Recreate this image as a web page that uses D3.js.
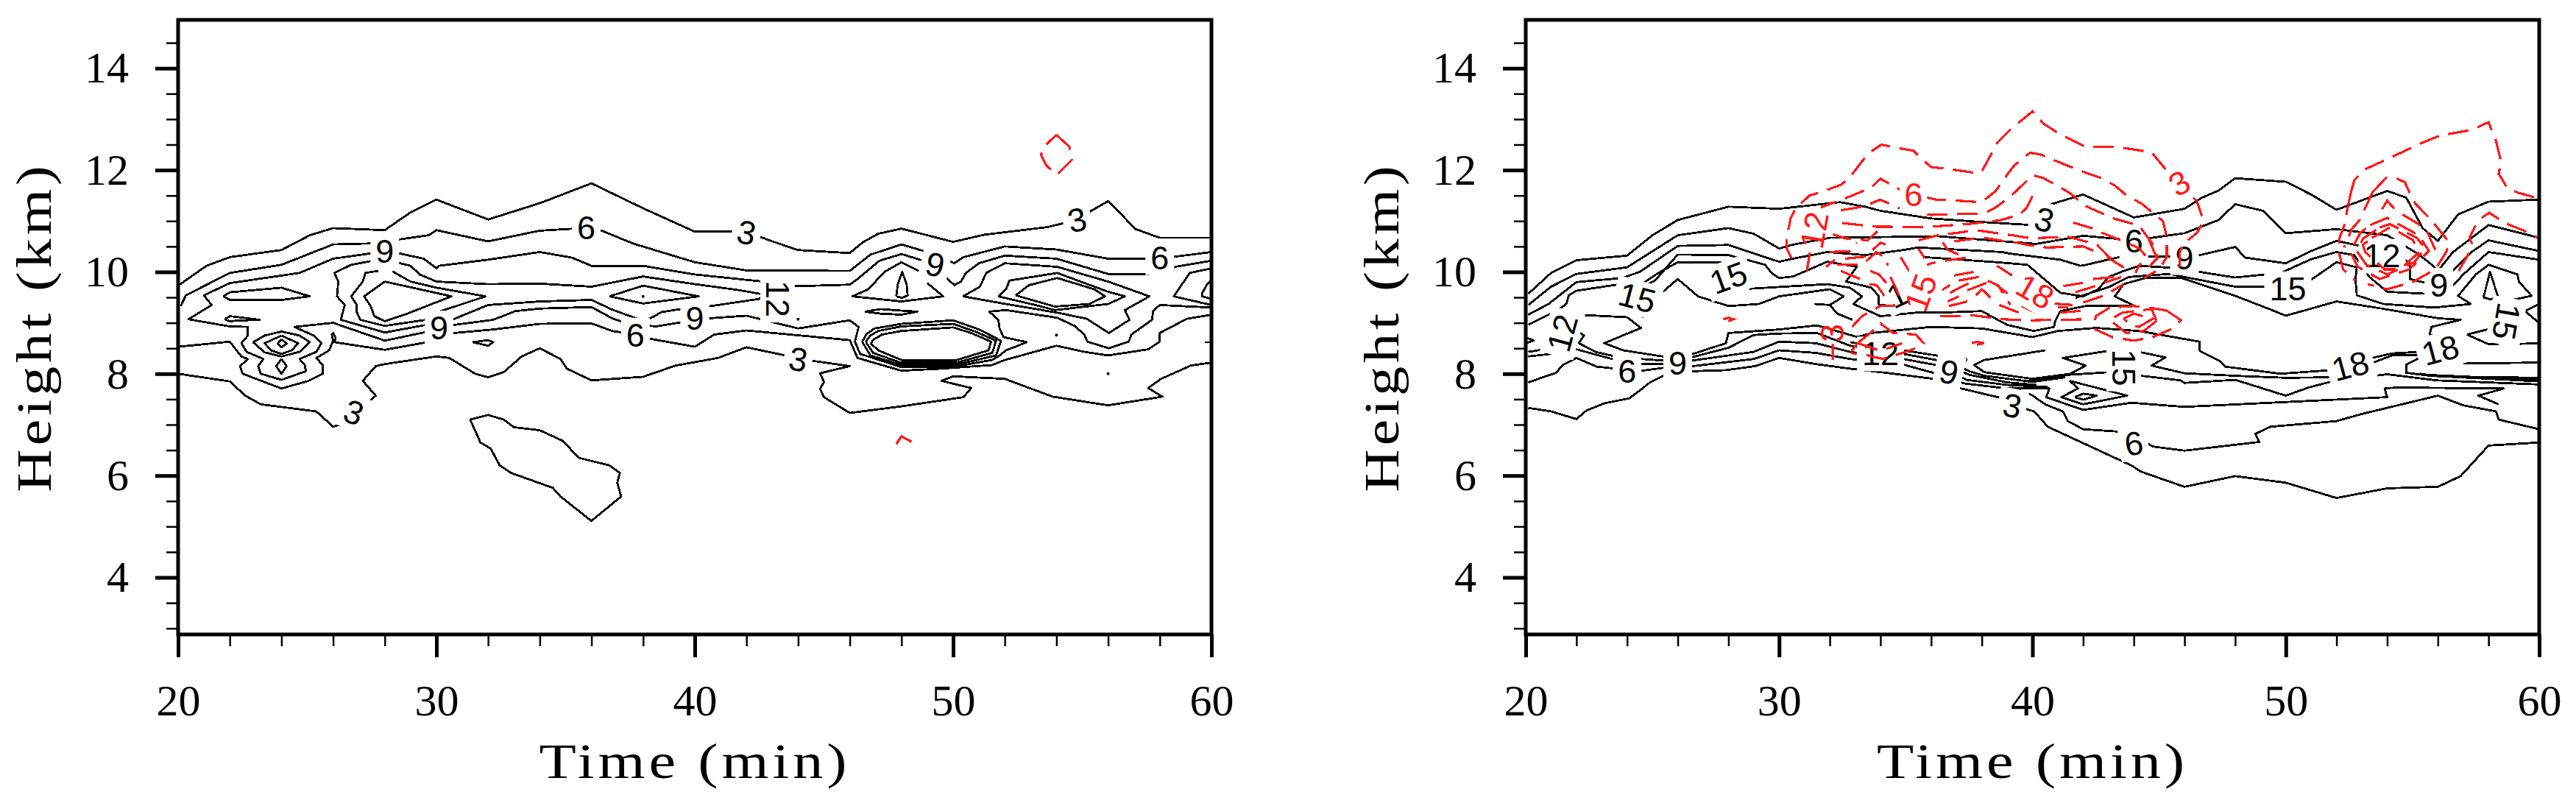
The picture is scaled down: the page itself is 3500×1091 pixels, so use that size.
<!DOCTYPE html>
<html lang="en">
<head>
<meta charset="UTF-8">
<title>Height vs time contours</title>
<style>
  html, body { margin: 0; padding: 0; background: #fff; }
  svg { display: block; }
  .lab { font-family: "Liberation Sans", Arial, sans-serif; font-size: 45px; text-anchor: middle; dominant-baseline: central; }
  .tick text { font-family: "Liberation Serif", serif; font-size: 60px; fill: #000; }
  .title { font-family: "Liberation Serif", serif; font-size: 68px; letter-spacing: 4px; fill: #000; }
</style>
</head>
<body>
<svg id="chart" width="3500" height="1091"></svg>
<script src="https://d3js.org/d3.v7.min.js"></script>
<script>
const xMajor = [20, 30, 40, 50, 60];
const xMinor = [22, 24, 26, 28, 32, 34, 36, 38, 42, 44, 46, 48, 52, 54, 56, 58];
const yMajor = [4, 6, 8, 10, 12, 14];
const yMinor = [3, 3.5, 4.5, 5, 5.5, 6.5, 7, 7.5, 8.5, 9, 9.5, 10.5, 11, 11.5, 12.5, 13, 13.5, 14.5];

const leftLines = [
  [[20,9.73],[21.1,10.12],[22,10.29],[24,10.43],[25.1,10.72],[26,10.86],[28,10.82],[29,11.17],[30,11.42],[32,11.03],[34,11.35],[36,11.74],[38,11.25],[40,10.79],[42,10.79],[43,10.6],[44,10.43],[46,10.37],[46.5,10.58],[47.1,10.75],[48,10.85],[49,10.72],[50,10.59],[51.2,10.73],[53.65,10.88],[54.3,10.96],[55,11.1],[56,11.39],[57.07,10.84],[58,10.67],[60,10.67]],
  [[20.1,9.33],[20.3,9.54],[22,9.98],[24,10.14],[26,10.54],[27.55,10.56],[28.6,10.64],[29.7,10.72],[30,10.82],[32,10.6],[34,10.81],[35.35,10.85],[36.4,10.81],[37.6,10.56],[38.7,10.39],[40,10.19],[42,10.03],[46,10.02],[46.3,10.14],[46.8,10.34],[48,10.54],[49,10.39],[50.05,10.17],[50.4,10.29],[52,10.5],[54,10.44],[56,10.26],[57.6,10.26],[58.6,10.3],[60,10.39]],
  [[60,10.22],[58.7,10.11],[57.6,9.96],[56,9.96],[54,10.26],[52,10.32],[51,10.17],[50.5,9.98],[50.3,9.81],[50.05,9.74],[49.7,9.9],[48.85,10.22],[48,10.35],[47.15,10.22],[46.3,9.86],[46,9.75],[44,9.72],[42.65,9.81],[40,9.95],[38,10.12],[36,10.12],[35.25,10.28],[34,10.39],[32,10.24],[30.1,10.12],[30,10.07],[29.5,10.26],[28.6,10.36],[27.55,10.37],[26,10.26],[24.7,9.98],[22,9.78],[21,9.54],[21.3,9.35],[20.4,9.07],[22,8.93],[22.7,8.92],[22.7,8.75],[22.45,8.6],[22.65,8.43],[23.3,8.29],[23.1,8.15],[23.2,8],[24,7.88],[24.95,8.05],[24.9,8.17],[24.7,8.29],[25.35,8.43],[25.55,8.6],[25.25,8.75],[24.5,8.92],[26,9],[28,8.65],[29.6,8.82],[30.7,8.96],[32.2,9.06],[33.05,9.23],[34,9.28],[36,9.31],[36.8,9.09],[37.4,8.98],[38.5,8.93],[39.45,9.01],[40.6,9.09],[42,9.14],[44,8.89],[46,9.05],[46.34,8.92],[46.2,8.63],[46.4,8.39],[48,8.13],[50.05,8.14],[51.5,8.27],[51.75,8.34],[52.05,8.46],[52.85,8.62],[51.95,8.72],[51.8,8.89],[51.75,9.06],[51.4,9.22],[52.05,9.25],[54.03,9.1],[54.7,8.94],[55.08,8.77],[55.2,8.63],[56.03,8.5],[56.8,8.63],[56.9,8.77],[57.7,9.06],[57.74,9.23],[58,9.35],[60,9.3]],
  [[42.65,9.56],[41.6,9.65],[40,9.76],[38,9.91],[36,9.71],[34,9.77],[32,9.76],[30,9.81],[29.35,9.95],[29,10.12],[28.6,10.17],[27.55,10.22],[26.7,10.14],[26.05,9.98],[26.2,9.81],[26.15,9.52],[26.45,9.35],[26.3,9.06],[28,8.81],[29.6,8.96],[30.7,9.08],[32,9.35],[34,9.42],[36,9.45],[36.8,9.26],[38,9.04],[38.4,9.12],[38.7,9.21],[39.45,9.27],[40.5,9.32],[42.5,9.47],[42.65,9.56]],
  [[27.75,10.02],[27.25,9.98],[27.15,9.81],[26.7,9.52],[26.9,9.37],[26.9,9.23],[27.05,9.06],[28,8.94],[29.6,9.06],[30,9.2],[31.9,9.52],[30,9.69],[29,9.81],[28.3,10.01]],
  [[28,9.81],[30.58,9.52],[28.87,9.18],[28,9.03],[27.6,9.13],[27.45,9.33],[27.2,9.52],[28,9.81]],
  [[20,8.53],[22,8.63],[22.45,8.34],[22.7,8.29],[22.4,8.15],[22.5,8],[24,7.71],[25.05,7.86],[25.6,8],[25.6,8.17],[25.35,8.31],[25.85,8.46],[26,8.65],[25.95,8.77],[26,8.8],[26.1,8.7],[26.05,8.62],[28,8.47],[29.65,8.62],[30.7,8.8],[32.2,8.87],[34,8.98],[36,8.99],[36.8,8.84],[37.45,8.79],[38.35,8.68],[40,8.53],[40.75,8.77],[42,8.85],[46,8.66],[46.3,8.31],[48,8.06],[49.55,8.1],[51.5,8.17],[52,8.27],[54,8.55],[55.08,8.43],[56,8.36],[57.55,8.48],[58,8.63],[58,8.8],[59.05,9.08],[60,9.16]],
  [[50.38,9.52],[51.04,9.71],[51.28,9.98],[52,10.17],[54.03,10.1],[56,9.81],[57.6,9.52],[56.65,9.25],[56.83,9.06],[56.03,8.8],[55.17,9.08],[54.03,9.2],[52.04,9.37],[50.38,9.52]],
  [[51.75,9.52],[52.05,9.66],[52.18,9.83],[54.03,9.98],[56,9.61],[56.65,9.52],[56,9.37],[53.94,9.25],[53.18,9.35],[51.75,9.52]],
  [[52.42,9.54],[52.94,9.74],[54.03,9.88],[55.46,9.66],[55.88,9.52],[55.27,9.37],[53.94,9.32],[52.42,9.54]],
  [[46.81,8.6],[46.95,8.68],[47.25,8.77],[48,8.84],[50,8.91],[50.7,8.8],[51.47,8.63],[51.37,8.46],[50.14,8.27],[48,8.27],[47.1,8.46],[46.81,8.6]],
  [[46.62,8.63],[46.8,8.75],[47.1,8.84],[48,8.93],[50,8.98],[50.9,8.82],[51.66,8.65],[51.52,8.41],[50.14,8.22],[47.95,8.22],[46.9,8.41],[46.62,8.63]],
  [[46.48,8.63],[46.65,8.78],[46.96,8.89],[48,8.98],[50,9.05],[51,8.87],[51.85,8.65],[51.66,8.36],[50.14,8.18],[47.95,8.18],[46.8,8.36],[46.48,8.63]],
  [[46.58,9.22],[47.2,9.27],[48,9.24],[48.62,9.22],[48,9.16],[47.2,9.18],[46.58,9.22]],
  [[47.8,9.52],[47.86,9.76],[48.03,10],[48.2,9.76],[48.24,9.54],[48.03,9.49],[47.8,9.52]],
  [[48.67,10.02],[48,10.19],[47.34,10],[46.72,9.66],[46.1,9.52],[48,9.42],[49.62,9.52],[49,9.78]],
  [[60,10.07],[59.16,9.98],[58.54,9.52],[60,9.35]],
  [[60,9.83],[59.83,9.76],[59.63,9.57],[59.64,9.52],[60,9.47]],
  [[59.75,8.62],[60,8.62]],
  [[20,8],[22,7.85],[22.6,7.57],[23.2,7.4],[25.35,7.26],[26,6.96],[26.55,7.04],[26.8,7.2],[27.3,7.4],[27.65,7.57],[27.15,7.86],[27.65,8.15],[28,8.19],[30,8.34],[30.5,8.31],[31.5,8],[32,7.93],[32.6,8.03],[33.3,8.34],[34,8.5],[34.8,8.29],[35.05,8.1],[36,7.87],[38,7.94],[39.25,8.16],[40.9,8.31],[42,8.52],[43.5,8.36],[44.6,8.25],[46,8.15],[44.85,8.01],[45,7.84],[44.85,7.7],[45,7.54],[46,7.23],[48,7.36],[50.4,7.54],[50.7,7.72],[49.55,7.86],[50,7.95],[52,7.9],[53.85,7.55],[56,7.38],[58.1,7.55],[57.55,7.72],[58.05,7.9],[59.2,8.16],[60,8.22]],
  [[24,8.68],[24.2,8.59],[24,8.52],[23.85,8.59],[24,8.68]],
  [[24,8.75],[24.65,8.6],[24.4,8.46],[24,8.39],[23.6,8.46],[23.35,8.6],[24,8.75]],
  [[22.9,8.62],[23.35,8.75],[24,8.83],[24.7,8.75],[25.1,8.62],[24.7,8.43],[24,8.34],[23.35,8.42],[22.9,8.62]],
  [[24,8.29],[24.2,8.15],[24,8],[23.8,8.15],[24,8.29]],
  [[21.75,9.52],[22,9.6],[24,9.69],[25.1,9.52],[24,9.45],[22,9.45],[21.75,9.52]],
  [[21.8,9.07],[22,9.13],[22.2,9.12],[23.15,9.06],[22.2,9.04],[22,9.03],[21.8,9.07]],
  [[31.4,8.62],[32,8.66],[32.2,8.62],[32,8.55],[31.4,8.62]],
  [[36.7,9.52],[38,9.73],[40.15,9.52],[38,9.38],[36.7,9.52]],
  [[31.3,7.1],[32,7.19],[32.6,7.1],[33,6.95],[34,6.89],[34.9,6.68],[35.5,6.35],[36.7,6.2],[37.1,6.05],[37,5.86],[37.15,5.59],[36,5.11],[34.8,5.59],[34.5,5.76],[32.9,6.05],[32.45,6.2],[32.1,6.53],[31.7,6.65],[31.6,6.77],[31.3,7.1]]
];
const leftDots = [[38,9.52],[44,9.07],[54,8.76],[56,8]];
const leftRed = [
  [[54,12.69],[54.5,12.46],[54.6,12.2],[54,11.9],[53.6,12.1],[53.4,12.3],[53.6,12.5],[54,12.69]],
  [[47.8,6.62],[48,6.77],[48.4,6.66],[48.2,6.6]]
];
const leftLabels = [
  [28,10.41,"9",0],[30.1,8.9,"9",0],[35.8,10.86,"6",0],[26.8,7.24,"3",20],[42,10.77,"3",12],
  [49.3,10.14,"9",12],[43.2,9.47,"12",90],[40,9.09,"9",0],[44,8.28,"3",10],[54.8,11.02,"3",-12],
  [58,10.28,"6",0],[37.7,8.76,"6",0]
];

const rightLines = [
  [[20.1,9.57],[21,9.98],[22,10.23],[24,10.32],[25,10.72],[26,11.02],[28,11.28],[30,11.24],[32.4,11.37],[33.4,11.28],[34,11.2],[36,11.05],[38,10.98],[40,10.92],[40.74,11.33],[42,11.52],[44,11.07],[46,11.24],[46.7,11.46],[47.35,11.6],[48,11.84],[50,11.77],[51,11.52],[52,11.22],[54,11.59],[54.75,11.46],[55.4,10.86],[56,10.61],[56.8,11.13],[58,11.38],[60,11.42]],
  [[20.1,9.35],[21,9.71],[22,9.96],[24,10.09],[26,10.72],[28,10.86],[29,10.75],[30,10.46],[30.5,10.53],[32,10.67],[36.3,10.7],[40.15,10.55],[42,10.71],[44,10.62],[46,10.76],[47.35,11.02],[48,11.33],[49.1,11.2],[50,10.76],[52,10.84],[54,10.72],[55.1,10.39],[55.65,10.19],[56,10.02],[56.6,10.39],[58,10.92],[60,10.67]],
  [[20.1,9.16],[20.9,9.37],[22,9.8],[23.8,9.88],[24.5,10],[26,10.51],[28,10.53],[30,10.2],[30.55,10.26],[31.9,10.39],[33.4,10.33],[34.9,10.43],[35.5,10.48],[38.8,10.39],[39.1,10.36],[41.1,10.24],[41.9,10.12],[42.03,10.13],[43.5,10.3],[45.6,10.3],[46.6,10.33],[48,10.49],[48.4,10.28],[50,10.17],[51,10.41],[52,10.61],[53.04,10.5],[54.4,10.34],[54.9,10.17],[54.9,9.86],[55.56,9.78],[56.5,9.98],[57.3,10.38],[58,10.62],[60,10.41]],
  [[20.1,8.96],[20.9,9.16],[21.2,9.23],[21.6,9.37],[21.7,9.54],[22,9.63],[23.6,9.75],[24.7,9.73],[25.1,9.83],[26,10.34],[28,10.33],[28.7,10.24],[29.45,10.14],[29.7,9.98],[30,9.88],[30.55,9.91],[31.9,10.2],[33.07,10.1],[32.64,9.81],[33.65,9.69],[33.94,9.52],[33.94,9.35],[34.4,9.35]],
  [[24.6,9.1],[24.9,9.28],[25.2,9.52],[26,9.86],[26.8,9.52],[28,9.33],[29.2,9.37],[30,9.52],[32,9.66],[32.55,9.52],[32,9.35],[31.4,9.37]],
  [[32,9.35],[32.3,9.18],[32.9,9.06]],
  [[24.2,9.7],[24.7,9.8],[25.2,9.97],[26,10.19],[27.95,10.18],[28.85,9.67],[31.9,9.76],[32.8,9.69],[33.27,9.52],[32.93,9.37],[34,9.13],[35.4,9.2],[36.3,9.2],[38,9.23],[39,8.96],[40.05,8.84],[40.85,8.92],[40.9,9.04],[41.1,9.23],[42.1,9.33],[44,9.34],[43.25,9.52],[43.6,9.76],[44.45,9.88],[45.9,9.88],[48,9.53],[49.3,9.28],[50,9.14],[52,9.42],[53.8,9.28],[56,9.09],[56.9,9.06],[55.75,8.92],[55.67,8.76],[55.96,8.75]],
  [[35.74,10.29],[38.6,10.19],[39.8,10.14],[41.1,9.59],[42,9.52],[42.6,9.66],[43,9.9],[43.5,10],[44.2,10.12],[45.9,10.07],[46.6,10],[48,9.89],[49.8,9.98],[51,10.25],[52,10.39],[52.7,10.33],[53.3,9.9],[54,9.61],[55.56,9.57],[56.6,9.73],[57,9.95],[58,10.39],[60,10.24]],
  [[41.7,9.49],[43.05,9.71],[43.8,9.9],[45.4,9.96],[46.1,9.89],[48,9.71],[49.35,9.71],[50.95,9.83],[52,10.19],[52.8,10.09],[52.75,9.86],[52.8,9.54],[53.86,9.37],[55.85,9.3],[57.3,9.37],[56.8,9.53],[57.5,9.95],[58,10.14],[59.14,9.95],[59.2,9.81],[59.7,9.53],[58.3,9.38]],
  [[22,9.16],[24,9.11],[24.55,8.9],[23.1,8.6],[23.85,8.46],[25.4,8.34],[26.6,8.39],[27.9,8.6],[28,8.8],[30,8.87],[31.5,8.95],[33.1,8.72],[33.65,8.8],[36,8.92],[38,8.89],[40,8.72],[41,8.84],[42.5,8.9],[44.2,8.84],[46.6,8.63],[46.6,8.45],[47.4,8.25],[47.6,8.14],[49.8,8],[51.75,8.07],[53.4,8.31],[54.2,8.4],[55.3,8.43],[55.3,8.32],[54.75,8.18],[54.75,8.02],[55.7,7.96],[60,7.85]],
  [[20.1,8.43],[21,8.5],[21.6,8.75],[22.1,8.82],[22.3,8.75],[22.1,8.6],[22.75,8.43],[23.7,8.32],[25.4,8.26],[26.6,8.33],[28,8.51],[29,8.76],[30,8.79],[31.5,8.8],[32.8,8.55],[34.9,8.39],[36.2,8.27],[37.5,7.98],[39,7.83],[40.15,7.78]],
  [[20.1,8.34],[21,8.39],[22,8.48],[23.55,8.27],[24.6,8.19],[25.5,8.19],[26.6,8.26],[29,8.43],[30,8.63],[31.45,8.6],[32.8,8.43],[34.9,8.29],[36.2,8.17],[37.4,7.88],[39,7.78],[40.6,7.74]],
  [[20.1,7.83],[21.2,8.02],[21.45,8.17],[22,8.31],[22.8,8.14],[23.55,8.1],[24.6,8.06],[25.5,8.12],[26.6,8.15],[29,8.29],[30,8.46],[31.45,8.41],[32.8,8.29],[34.9,8.18],[36,8.03],[37.3,7.81],[39,7.71],[40.67,7.71],[40.54,7.54],[42,7.29],[43.9,7.43],[46,7.35],[54,7.54],[53.9,7.71],[54.35,7.73],[58.6,7.71],[57.6,7.57],[58.4,7.4]],
  [[20.1,7.33],[21,7.26],[22,7.11],[22.4,7.28],[23.1,7.42],[24.1,7.52],[24.55,7.69],[24.9,7.83],[25.5,7.98],[26.6,8.05],[27.9,8.07],[29.05,8.15],[30,8.31],[31.45,8.19],[32.8,8.1],[34.2,8.02],[36.1,7.9],[37.2,7.71],[38.8,7.52],[39.8,7.3],[40.07,7.26],[40.6,6.96],[43.94,6.19],[44.27,6.08],[46,5.78],[48,5.99],[50,5.86],[52,5.56],[54,5.75],[56,5.78],[56.9,5.99],[58,6.59],[60,6.65]],
  [[39.2,7.73],[39.95,7.59],[40.5,7.4],[41.2,7.26],[41.4,7.07],[42,6.91],[43.8,6.85],[44.75,6.57],[46,6.49],[48.95,6.66],[48.8,6.82],[49.4,6.96],[52,7.07],[53,7.21],[56,7.57],[57,7.38],[58.3,7.26],[58.4,7.1],[60,6.91]],
  [[32.8,8.62],[34.9,8.46],[36.2,8.36],[37.5,8.05],[38.1,7.96],[40,7.84],[41.3,7.93]],
  [[40.5,8.46],[38.1,8.27],[37.7,8.17],[38.1,8.03],[40,7.9],[41.5,8],[42.1,8.16],[41.2,8.31],[43,8.45],[44.3,8.42],[45.25,8.32],[44.7,8.16],[46,8.01],[48,7.96],[50,7.92],[51.75,7.93],[53.5,8.23],[54.2,8.36],[55.3,8.37]],
  [[39.67,7.85],[41.47,7.98],[43,8.03],[44.3,7.96],[45.85,7.87],[46,7.82],[48,7.88],[50,7.57],[50.9,7.73],[51.9,7.86],[54,7.99],[55.95,7.87],[60,7.79]],
  [[57,8.2],[60,8.22]],
  [[55.3,8],[56,7.95],[60,7.92]],
  [[55.5,7.98],[60,7.88]],
  [[57.15,8.77],[58.2,8.9]],
  [[57.15,8.77],[58,8.58],[58.4,8.58]],
  [[58.8,8.58],[60,8.6]],
  [[41.47,7.86],[41.8,7.71],[41.14,7.54],[42,7.4],[43.74,7.57],[41.47,7.86]],
  [[41.67,7.54],[42,7.61],[42.54,7.57],[42,7.49],[41.67,7.54]],
  [[57.8,9.5],[58.06,10],[58.37,9.52],[58.08,9.46],[57.8,9.5]],
  [[60,9.37],[59.43,9.23],[60,9]],
  [[20,8.72],[20.3,8.65],[20,8.6]],
  [[36.7,8.31],[37.4,8.29],[37.3,8.2]]
];
const rightRed = [
  [[30.5,10.26],[30.3,10.46],[30.3,10.67],[30.46,11.06],[30.65,11.25],[31.2,11.5],[31.67,11.57],[32.44,11.71],[32.78,11.85],[33.27,12.17],[33.56,12.34],[34.04,12.5],[34.62,12.44],[35.3,12.38],[35.74,12.17],[36,12.06],[36.85,12.01],[37.67,11.95],[38,11.97],[38.4,12.34],[38.6,12.53],[39.18,12.82],[40,13.15],[40.44,12.91],[41.07,12.71],[42.07,12.46],[43.4,12.45],[44.7,12.35],[45.4,11.93],[45.8,11.74],[46.5,11.38],[46.75,11],[46.5,10.77],[45.95,10.55],[45.8,10.36],[45.8,9.98]],
  [[31.1,10.02],[31.2,10.34],[31.4,10.9],[31.7,11.28],[32.5,11.42],[33.65,11.66],[34,11.83],[34.8,11.61],[35.3,11.52],[36.2,11.42],[37,11.4],[37.96,11.37],[38.2,11.45],[38.55,11.59],[39.03,11.93],[39.3,12.1],[39.9,12.34],[40.3,12.31],[41.07,12.15],[41.47,12.07],[42.2,11.93],[42.67,11.85],[43.27,11.69],[43.67,11.52],[44.34,11.33],[44.75,11.16],[45.15,11],[45.3,10.7],[45.3,10.29],[45,10.05],[44.4,9.88]],
  [[32.44,11.21],[33.27,11.28],[33.65,11.35],[34,11.42],[34.43,11.32],[35,11.2],[36,11.12],[38.1,11.15],[38.5,11.25],[39.1,11.47],[39.47,11.64],[40,11.9],[40.4,11.85],[41.1,11.66],[41.47,11.55],[42.07,11.3],[43.2,11.05],[44.2,10.91],[44.7,10.58],[44.95,10.28],[44.6,10.1]],
  [[32.49,10.96],[33.75,10.89],[35.79,10.88],[37.43,10.94],[38.69,11.01],[39.47,11.12],[39.76,11.25],[40,11.49],[40.2,11.38]],
  [[41.6,10.97],[42.34,10.86],[42.74,10.77],[43.54,10.61],[44.2,10.47],[44.5,10.3],[44.2,10.12],[44.07,9.98]],
  [[32.05,10.75],[32.6,10.66],[33.5,10.62],[34.1,10.9]],
  [[35.5,10.62],[36.27,10.72],[36.75,10.75],[37.53,10.8],[37.92,10.81],[38.74,10.75],[39.2,10.72],[39.95,10.66],[40.4,10.67],[41.4,10.69],[42.54,10.54],[43,10.3],[43.6,10.08]],
  [[36.9,10.6],[37.66,10.65],[38.1,10.67],[38.94,10.6],[39.32,10.58],[40.15,10.5],[40.58,10.48],[42,10.5],[42.54,10.39]],
  [[32,10.39],[32.78,10.41],[33.07,10.58]],
  [[32.6,10.26],[33.4,10.3],[34,10.57],[34.2,10.54]],
  [[31.86,10.1],[32.2,10.24]],
  [[32.3,10.14],[33.27,10.14],[33.85,10.39],[34.24,10.26],[34.28,10.12]],
  [[32.44,10.02],[33.2,9.86]],
  [[33.6,10.02],[33.94,9.95],[34.24,9.78],[34.28,9.66]],
  [[33.56,9.76],[33.85,9.74],[34.1,9.57],[34.14,9.52]],
  [[34.4,9.9],[34.9,9.37]],
  [[34.8,10.29],[35.15,10]],
  [[35.5,10.46],[35.74,10.27]],
  [[36.46,10.58],[36.66,10.43],[37.1,10.34]],
  [[35.83,10.14],[36.17,10.19]],
  [[36.56,10.22],[37.4,10.28]],
  [[38.6,10.12],[39.2,9.93]],
  [[36.22,9.78],[36.51,9.86]],
  [[36.41,9.64],[36.75,9.74]],
  [[36.75,9.59],[37.48,9.78]],
  [[36.66,9.42],[37.09,9.52]],
  [[36.7,9.33],[37.43,9.42]],
  [[36.9,9.93],[37.68,10]],
  [[37.09,9.83],[37.87,9.9],[38.64,9.74],[39.13,9.35]],
  [[37.43,9.64],[38.16,9.78],[38.6,9.74],[38.98,9.59],[39.57,9.4]],
  [[37.77,9.54],[38,9.66],[38.4,9.47]],
  [[38.69,9.35],[39.47,9.2]],
  [[39.57,9.33],[40.3,9.16]],
  [[36.36,9.13],[37.2,9.13],[37.6,9.15],[38.4,9.1],[38.85,9.07],[39.66,9.05],[40.05,9.05],[40.85,9.06],[41.3,9.06],[42.1,9.07]],
  [[32.88,8.92],[33.27,9.13],[34,9.33],[35,9.35]],
  [[41.2,9.72],[42.03,9.79]],
  [[41.7,9.6],[42.4,9.71],[43.5,9.9]],
  [[42,9.4],[42.86,9.54],[43.6,9.76]],
  [[42.4,9.86],[43.6,9.92]],
  [[40.77,9.38],[41.6,9.35]],
  [[41,9.3],[41.4,9.3]],
  [[41.1,9.2],[42.2,9.25]],
  [[42.95,10.29],[43.55,10.1]],
  [[44.6,10.63],[44.94,10.24]],
  [[45.3,9.24],[45.86,9.05],[45.5,8.88],[44.75,8.72],[44,8.65],[43.15,8.72],[42.4,8.89],[42.5,9.13],[43.05,9.3],[44,9.33],[44.85,9.28],[45.3,9.24]],
  [[44.9,9.04],[44.4,8.84],[43.7,8.8],[43.05,9.06],[43.55,9.2],[44.7,9.27],[44.9,9.04]],
  [[43.6,9.08],[44,9.18],[44.75,9.08],[44.2,8.92],[43.9,8.96],[43.6,9.08]],
  [[32.1,8.24],[32.1,8.58],[32.1,8.85]],
  [[33.1,8.6],[33.65,8.82],[34,8.99],[34.5,8.8],[35.4,8.77],[35.7,8.6],[35.4,8.5],[35,8.43],[34.1,8.29],[33.5,8.36],[32.8,8.41],[33.1,8.6]],
  [[33.1,8.6],[34,8.45],[34.85,8.6]],
  [[37.6,8.6],[37.8,8.63],[38.1,8.6],[37.8,8.57]],
  [[27.8,9.07],[28,9.1],[28.2,9.07],[28,9.03]],
  [[52.55,11.52],[52.7,11.8],[53.15,12.02],[53.85,12.18],[55.4,12.54],[56.1,12.68],[57.35,12.79],[58,12.94],[58.3,12.57],[58.5,12.15],[58.4,11.93],[58.76,11.63],[59.2,11.55],[60,11.44]],
  [[52.55,11.52],[52.4,11.16],[52.31,10.92],[52.12,10.67],[52.12,10.34],[52.26,10.05],[52.75,9.83]],
  [[53.43,11.57],[53.96,11.85],[54.4,11.83],[54.7,11.76],[54.9,11.54],[55.1,11.35],[55.65,11.06],[55.95,10.89],[56.45,10.58],[56.33,10.39],[55.9,10.05],[55,9.8],[54,9.66],[53.23,9.76]],
  [[53.43,11.57],[52.9,11.01],[52.6,10.84],[52.3,10.48]],
  [[53.8,11.23],[54,11.4],[54.3,11.23]],
  [[54.6,11.13],[55.3,10.92],[55.6,10.77],[55.9,10.43]],
  [[53.33,10.92],[54,11.06],[55.25,10.72],[55.65,10.41],[54.87,10.05],[53.7,9.86],[52.84,10.1],[52.55,10.39],[52.94,10.77],[53.33,10.92]],
  [[53.7,10.87],[54.1,10.94],[55.17,10.67],[55.5,10.46],[55.07,10.19],[54,9.95],[53.18,10.14],[52.8,10.41],[53.04,10.65],[53.7,10.87]],
  [[53.4,10.67],[54.1,10.87],[54.5,10.77],[55,10.63],[55.27,10.39],[54.5,10.05],[53.9,10.05],[53.13,10.39],[53.04,10.53],[53.4,10.67]],
  [[56.82,10.02],[57.2,10.34],[57.35,10.55],[57.25,10.67],[57.5,10.92],[57.78,11.08],[58.03,11.16],[58.5,11.01],[58.85,10.92],[59.6,10.77],[60,10.65]]
];
const rightLabels = [
  [24.4,9.49,"15",15],[21.45,8.8,"12",-75],[28,9.88,"15",-20],[34.67,9.54,"1",-25],[24,8.05,"6",0],
  [26,8.2,"9",0],[34,8.39,"12",0],[36.7,8.03,"9",12],[39.2,7.37,"3",10],[40.47,11.02,"3",15],
  [44,10.6,"6",0],[46,10.28,"9",0],[50.08,9.67,"15",0],[53.8,10.31,"12",0],[56.04,9.74,"9",0],
  [58.7,9.03,"15",100],[52.55,8.15,"18",-15],[56.1,8.46,"18",-15],[43.6,8.12,"15",90],[44,6.63,"6",-8]
];
const rightRedLabels = [
  [35.3,11.52,"6",0],[31.4,10.82,"12",-80],[35.6,9.59,"15",-70],[40.1,9.61,"18",30],
  [32.1,8.61,"\u22123",-90],[45.8,11.74,"3",-30]
];

const panels = [
  { x0: 242, x1: 1646, lines: leftLines, red: leftRed, labels: leftLabels, redLabels: [], dots: leftDots },
  { x0: 2073, x1: 3450, lines: rightLines, red: rightRed, labels: rightLabels, redLabels: rightRedLabels, dots: [] }
];

const svg = d3.select("#chart");
const top_ = 27, bottom_ = 862;
const redColor = "#ff1a1a";

panels.forEach((p, i) => {
  const x = d3.scaleLinear().domain([20, 60]).range([p.x0, p.x1]);
  const y = d3.scaleLinear().domain([2.88, 14.95]).range([bottom_, top_]);
  const line = d3.line().x(d => x(d[0])).y(d => y(d[1]));
  const g = svg.append("g");

  // red lines get their label gaps from a mask, so the white boxes do not cut the black lines
  const mask = svg.append("mask").attr("id", "redMask" + i).attr("maskUnits", "userSpaceOnUse")
    .attr("x", 0).attr("y", 0).attr("width", 3500).attr("height", 1091);
  mask.append("rect").attr("width", 3500).attr("height", 1091).attr("fill", "#fff");

  // the reference has hard, non-antialiased lines
  g.append("g").selectAll("path").data(p.lines).join("path")
    .attr("d", line).attr("fill", "none").attr("stroke", "#000")
    .attr("stroke-width", 2.8).attr("stroke-linejoin", "round")
    .attr("shape-rendering", "crispEdges");

  g.append("g").selectAll("circle").data(p.dots).join("circle")
    .attr("cx", d => x(d[0])).attr("cy", d => y(d[1])).attr("r", 2).attr("fill", "#000");

  // black contour labels sit on a white box that breaks the lines
  const blackLabs = g.append("g").selectAll("g").data(p.labels).join("g")
    .attr("transform", d => `translate(${x(d[0])},${y(d[1])}) rotate(${d[3]})`);
  blackLabs.append("text").attr("class", "lab").attr("fill", "#000").text(d => d[2]);
  blackLabs.insert("rect", "text").each(function() {
    const b = this.parentNode.querySelector("text").getBBox();
    d3.select(this).attr("x", b.x - 7).attr("y", b.y + 2).attr("width", b.width + 14).attr("height", b.height - 4).attr("fill", "#fff");
  });

  const redG = g.append("g").attr("mask", `url(#redMask${i})`);
  redG.selectAll("path").data(p.red).join("path")
    .attr("d", line).attr("fill", "none").attr("stroke", redColor)
    .attr("stroke-width", 3.2).attr("stroke-dasharray", "28 13")
    .attr("shape-rendering", "crispEdges");

  const redLabs = g.append("g").selectAll("text").data(p.redLabels).join("text")
    .attr("class", "lab").attr("fill", redColor)
    .attr("transform", d => `translate(${x(d[0])},${y(d[1])}) rotate(${d[3]})`)
    .text(d => d[2]);
  redLabs.each(function(d) {
    const b = this.getBBox();
    mask.append("rect").attr("x", b.x - 6).attr("y", b.y).attr("width", b.width + 12).attr("height", b.height)
      .attr("fill", "#000").attr("transform", `translate(${x(d[0])},${y(d[1])}) rotate(${d[3]})`);
  });

  // frame: only left, top, right and bottom lines
  g.append("rect").attr("x", p.x0).attr("y", top_).attr("width", p.x1 - p.x0).attr("height", bottom_ - top_)
    .attr("fill", "none").attr("stroke", "#000").attr("stroke-width", 5);

  const xAxis = g.append("g").attr("transform", `translate(0,${bottom_})`)
    .call(d3.axisBottom(x).tickValues(xMajor).tickSize(31).tickPadding(36).tickFormat(d3.format("d")));
  xAxis.selectAll("line").attr("stroke", "#000").attr("stroke-width", 5);
  xAxis.selectAll("text").attr("dy", "0.71em");
  xAxis.select(".domain").remove();
  const xMin = g.append("g").attr("transform", `translate(0,${bottom_})`)
    .call(d3.axisBottom(x).tickValues(xMinor).tickSize(16).tickFormat(""));
  xMin.selectAll("line").attr("stroke", "#000").attr("stroke-width", 2.5);
  xMin.select(".domain").remove();

  const yAxis = g.append("g").attr("transform", `translate(${p.x0},0)`)
    .call(d3.axisLeft(y).tickValues(yMajor).tickSize(31).tickPadding(36).tickFormat(d3.format("d")));
  yAxis.selectAll("line").attr("stroke", "#000").attr("stroke-width", 5);
  yAxis.select(".domain").remove();
  const yMin = g.append("g").attr("transform", `translate(${p.x0},0)`)
    .call(d3.axisLeft(y).tickValues(yMinor).tickSize(16).tickFormat(""));
  yMin.selectAll("line").attr("stroke", "#000").attr("stroke-width", 2.5);
  yMin.select(".domain").remove();

  g.append("text").attr("class", "title").attr("text-anchor", "middle")
    .attr("x", (p.x0 + p.x1) / 2).attr("y", 1057)
    .attr("textLength", 423).attr("lengthAdjust", "spacingAndGlyphs")
    .text("Time (min)");
  g.append("text").attr("class", "title").attr("text-anchor", "middle")
    .attr("transform", `translate(${p.x0 - 173},${(top_ + bottom_) / 2}) rotate(-90)`)
    .attr("textLength", 448).attr("lengthAdjust", "spacingAndGlyphs")
    .text("Height (km)");
});
</script>
</body>
</html>
